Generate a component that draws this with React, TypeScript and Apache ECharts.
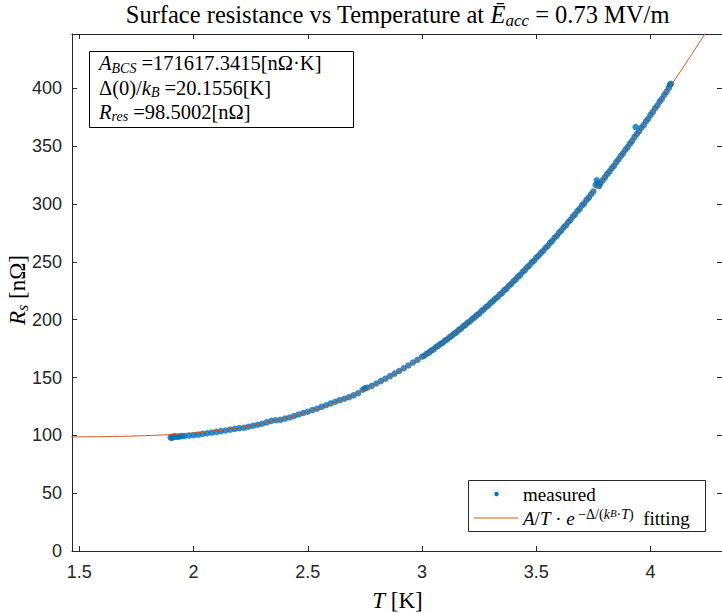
import { useEffect, useRef } from 'react';
import * as echarts from 'echarts';

// Axis ranges and tick values
const xRange = [1.468, 4.313];
const yRange = [0, 447];
const xTicks = [1.5, 2, 2.5, 3, 3.5, 4];
const yTicks = [0, 50, 100, 150, 200, 250, 300, 350, 400];

// Measured points (T in K, Rs in nOhm)
const measuredT = [
  1.9, 1.905, 1.91, 1.915, 1.92, 1.93, 1.94, 1.95, 1.96, 1.98, 2.0, 2.02, 2.04, 2.06, 2.08, 2.1, 2.12, 2.14, 2.16, 2.18,
  2.2, 2.22, 2.24, 2.26, 2.28, 2.3, 2.32, 2.34, 2.36, 2.38, 2.4, 2.42, 2.44, 2.46, 2.48, 2.5, 2.52, 2.54,
  2.56, 2.58, 2.6, 2.62, 2.64, 2.66, 2.68, 2.7, 2.72, 2.74, 2.75, 2.76, 2.78, 2.8, 2.82, 2.84, 2.86, 2.88,
  2.9, 2.92, 2.94, 2.96, 2.98, 3.0, 3.01, 3.02, 3.03, 3.04, 3.05, 3.06, 3.07, 3.08, 3.09, 3.1, 3.11, 3.12,
  3.13, 3.14, 3.15, 3.16, 3.17, 3.18, 3.19, 3.2, 3.21, 3.22, 3.23, 3.24, 3.25, 3.26, 3.27, 3.28, 3.29, 3.3,
  3.31, 3.32, 3.33, 3.34, 3.35, 3.36, 3.37, 3.38, 3.39, 3.4, 3.41, 3.42, 3.43, 3.44, 3.45, 3.46, 3.47, 3.48,
  3.49, 3.5, 3.51, 3.52, 3.53, 3.54, 3.55, 3.56, 3.57, 3.58, 3.59, 3.6, 3.61, 3.62, 3.63, 3.64, 3.65, 3.66,
  3.67, 3.68, 3.69, 3.7, 3.71, 3.72, 3.73, 3.74, 3.75, 3.76, 3.765, 3.77, 3.775, 3.78, 3.79, 3.8, 3.81, 3.82,
  3.83, 3.84, 3.85, 3.86, 3.87, 3.88, 3.89, 3.9, 3.91, 3.92, 3.93, 3.935, 3.94, 3.95, 3.96, 3.97, 3.98, 3.99,
  4.0, 4.01, 4.02, 4.03, 4.04, 4.05, 4.06, 4.07, 4.08, 4.085, 4.09,
];
const measuredR = [
  98.2, 97.8, 98.6, 99.2, 98.9, 98.7, 99.0, 99.5, 99.4, 99.8, 100.2, 100.6, 101.3, 101.8, 102.4, 103.0, 103.6, 104.2, 104.9, 105.6,
  106.2, 106.6, 107.4, 108.3, 109.2, 110.0, 111.2, 112.5, 113.0, 113.4, 114.5, 115.4, 116.7, 118.0, 119.3, 120.4, 121.8, 123.0,
  124.6, 126.0, 127.6, 129.0, 130.4, 131.6, 133.0, 134.6, 136.4, 139.4, 140.6, 141.2, 142.8, 144.8, 146.9, 149.0, 151.2, 153.4,
  155.6, 158.0, 160.4, 162.9, 165.3, 167.9, 168.8, 170.5, 171.5, 173.3, 174.2, 176.2, 177.4, 179.0, 180.0, 181.9, 182.9, 184.8,
  186.0, 187.9, 189.0, 191.0, 192.2, 194.2, 195.5, 197.4, 198.6, 200.7, 202.0, 204.0, 205.2, 207.4, 208.8, 211.0, 212.3, 214.5,
  215.9, 218.0, 219.4, 221.8, 223.0, 225.5, 226.8, 229.3, 230.8, 233.2, 234.8, 237.2, 238.7, 241.2, 242.8, 245.3, 247.0, 249.5,
  251.0, 253.6, 255.3, 257.7, 259.4, 262.0, 263.7, 266.4, 268.1, 270.8, 272.6, 275.3, 277.1, 279.9, 281.6, 284.5, 286.3, 289.2,
  291.0, 294.0, 295.8, 298.8, 300.6, 303.6, 305.5, 308.4, 310.8, 316.5, 320.5, 318.0, 315.5, 317.8, 320.4, 323.0, 325.8, 328.0,
  330.8, 333.0, 336.2, 338.6, 341.6, 343.8, 346.9, 349.2, 352.2, 354.6, 358.0, 366.5, 360.5, 363.0, 366.0, 368.3, 371.5, 373.8,
  377.1, 379.6, 382.8, 385.2, 388.5, 391.0, 394.3, 397.0, 400.4, 403.2, 404.0,
];

// Fitted curve
const fitT = [
  1.45, 1.5, 1.55, 1.6, 1.65, 1.7, 1.75, 1.8, 1.85, 1.9, 1.95, 2.0, 2.05, 2.1, 2.15, 2.2, 2.25, 2.3, 2.35, 2.4,
  2.45, 2.5, 2.55, 2.6, 2.65, 2.7, 2.75, 2.8, 2.85, 2.9, 2.95, 3.0, 3.05, 3.1, 3.15, 3.2, 3.25, 3.3, 3.35, 3.4,
  3.45, 3.5, 3.55, 3.6, 3.65, 3.7, 3.75, 3.8, 3.85, 3.9, 3.95, 4.0, 4.05, 4.1, 4.15, 4.2, 4.25, 4.3,
];
const fitR = [
  98.6, 98.7, 98.75, 98.86, 99.02, 99.22, 99.48, 99.81, 100.22, 100.73, 101.35, 102.1, 102.99, 104.04, 105.28, 106.69, 108.33, 110.16, 112.26, 114.6,
  117.23, 120.1, 123.35, 126.9, 130.73, 134.9, 139.43, 144.3, 149.58, 155.2, 161.24, 167.6, 174.4, 181.6, 189.2, 197.1, 205.5, 214.2, 223.4, 233.0,
  243.0, 253.3, 264.0, 275.1, 286.6, 298.4, 310.6, 323.2, 336.1, 349.3, 362.9, 376.8, 391.0, 405.5, 420.3, 435.4, 450.7, 466.4,
];

const titleText = '{n|Surface resistance vs Temperature at }{i|Ē}{sub|acc}{n| = 0.73 MV/m}';
const paramLines = [
  '{i|A}{sub|BCS}{n| =171617.3415[nΩ·K]}',
  '{n|Δ(0)/}{i|k}{sub|B}{n| =20.1556[K]}',
  '{i|R}{sub|res}{n| =98.5002[nΩ]}',
];
const legendMeasured = '{n|measured}';
const legendFit = '{i|A}{n|/}{i|T}{n| · }{i|e}{sup| −Δ/(}{supi|k}{supsub|B}{sup|·}{supi|T}{sup|)}{n|  fitting}';
const xName = '{i|T}{n| [K]}';
const yName = '{i|R}{sub|s}{n| [nΩ]}';

const SERIF = '"Liberation Serif", "Times New Roman", serif';
const SANS = '"Liberation Sans", Arial, Helvetica, sans-serif';
const AXIS = '#262626';
const BLUE = '#0072BD';
const ORANGE = '#D95319';

function richSet(size: number, lh: number) {
  return {
    n: { fontFamily: SERIF, fontSize: size, lineHeight: lh, fill: '#000' },
    i: { fontFamily: SERIF, fontSize: size, fontStyle: 'italic', lineHeight: lh, fill: '#000' },
    sub: { fontFamily: SERIF, fontSize: Math.round(size * 0.7), fontStyle: 'italic', lineHeight: Math.round(size * 0.62), verticalAlign: 'bottom', fill: '#000' },
    sup: { fontFamily: SERIF, fontSize: Math.round(size * 0.76), lineHeight: Math.round(size * 0.66), verticalAlign: 'top', fill: '#000' },
    supi: { fontFamily: SERIF, fontSize: Math.round(size * 0.76), fontStyle: 'italic', lineHeight: Math.round(size * 0.66), verticalAlign: 'top', fill: '#000' },
    supsub: { fontFamily: SERIF, fontSize: Math.round(size * 0.56), fontStyle: 'italic', lineHeight: Math.round(size * 0.95), verticalAlign: 'top', fill: '#000' },
  };
}

function richText(text: string, x: number, y: number, size: number, lh: number, align = 'left', rotation = 0) {
  return {
    type: 'text',
    x,
    y,
    rotation,
    z: 100,
    style: {
      text,
      align,
      verticalAlign: 'middle',
      fontFamily: SERIF,
      fontSize: size,
      fill: '#000',
      rich: richSet(size, lh),
    },
  };
}

export default function App() {
  const ref = useRef<HTMLDivElement>(null);
  useEffect(() => {
    if (!ref.current) return;
    const chart = echarts.init(ref.current, null, { renderer: 'svg' });
    const axisCommon = {
      type: 'value',
      splitLine: { show: false },
      axisLine: { show: true, onZero: false, lineStyle: { color: AXIS, width: 1 } },
    };
    const option: any = {
      animation: false,
      backgroundColor: '#ffffff',
      grid: { left: 72, top: 34, width: 651, height: 517 },
      xAxis: [
        {
          ...axisCommon,
          position: 'bottom',
          min: xRange[0],
          max: xRange[1],
          axisTick: { show: true, inside: true, length: 5, customValues: xTicks, lineStyle: { color: AXIS } },
          axisLabel: { show: true, customValues: xTicks, margin: 12, color: AXIS, fontSize: 18, fontFamily: SANS },
        },
        {
          ...axisCommon,
          position: 'top',
          min: xRange[0],
          max: xRange[1],
          axisTick: { show: true, inside: true, length: 5, customValues: xTicks, lineStyle: { color: AXIS } },
          axisLabel: { show: false },
        },
      ],
      yAxis: [
        {
          ...axisCommon,
          position: 'left',
          min: yRange[0],
          max: yRange[1],
          axisTick: { show: true, inside: true, length: 5, customValues: yTicks, lineStyle: { color: AXIS } },
          axisLabel: { show: true, customValues: yTicks, margin: 10, color: AXIS, fontSize: 18, fontFamily: SANS },
        },
        {
          ...axisCommon,
          position: 'right',
          min: yRange[0],
          max: yRange[1],
          axisTick: { show: true, inside: true, length: 5, customValues: yTicks, lineStyle: { color: AXIS } },
          axisLabel: { show: false },
        },
      ],
      series: [
        {
          type: 'scatter',
          name: 'measured',
          xAxisIndex: 0,
          yAxisIndex: 0,
          data: measuredT.map((t, i) => [t, measuredR[i]]),
          symbol: 'circle',
          symbolSize: 6.5,
          itemStyle: { color: BLUE },
          z: 2,
        },
        {
          type: 'line',
          name: 'fitting',
          xAxisIndex: 0,
          yAxisIndex: 0,
          data: fitT.map((t, i) => [t, fitR[i]]),
          showSymbol: false,
          symbol: 'none',
          smooth: true,
          clip: true,
          lineStyle: { color: ORANGE, width: 1 },
          z: 3,
        },
      ],
      graphic: [
        richText(titleText, 397.5, 14, 24.5, 30, 'center'),
        {
          type: 'rect',
          z: 90,
          shape: { x: 89.5, y: 51.5, width: 264, height: 76 },
          style: { fill: '#ffffff', stroke: '#000000', lineWidth: 1 },
        },
        richText(paramLines[0], 99, 63, 20.5, 24),
        richText(paramLines[1], 99, 87.5, 20.5, 24),
        richText(paramLines[2], 99, 111.5, 20.5, 24),
        {
          type: 'rect',
          z: 90,
          shape: { x: 468.5, y: 480.5, width: 237, height: 51 },
          style: { fill: '#ffffff', stroke: AXIS, lineWidth: 1 },
        },
        {
          type: 'circle',
          z: 100,
          shape: { cx: 496.5, cy: 494, r: 2.2 },
          style: { fill: BLUE },
        },
        {
          type: 'line',
          z: 100,
          shape: { x1: 474, y1: 518, x2: 518, y2: 518 },
          style: { stroke: ORANGE, lineWidth: 1 },
        },
        richText(legendMeasured, 523, 494, 19, 22),
        richText(legendFit, 523, 518, 19, 22),
        richText(xName, 397.5, 600, 23, 26, 'center'),
        richText(yName, 17, 290, 23, 26, 'center', Math.PI / 2),
      ],
    };
    chart.setOption(option);
    return () => chart.dispose();
  }, []);
  return (
    <div
      ref={ref}
      style={{ position: 'absolute', left: 0, top: 0, width: 722, height: 613, background: '#fff' }}
    />
  );
}
